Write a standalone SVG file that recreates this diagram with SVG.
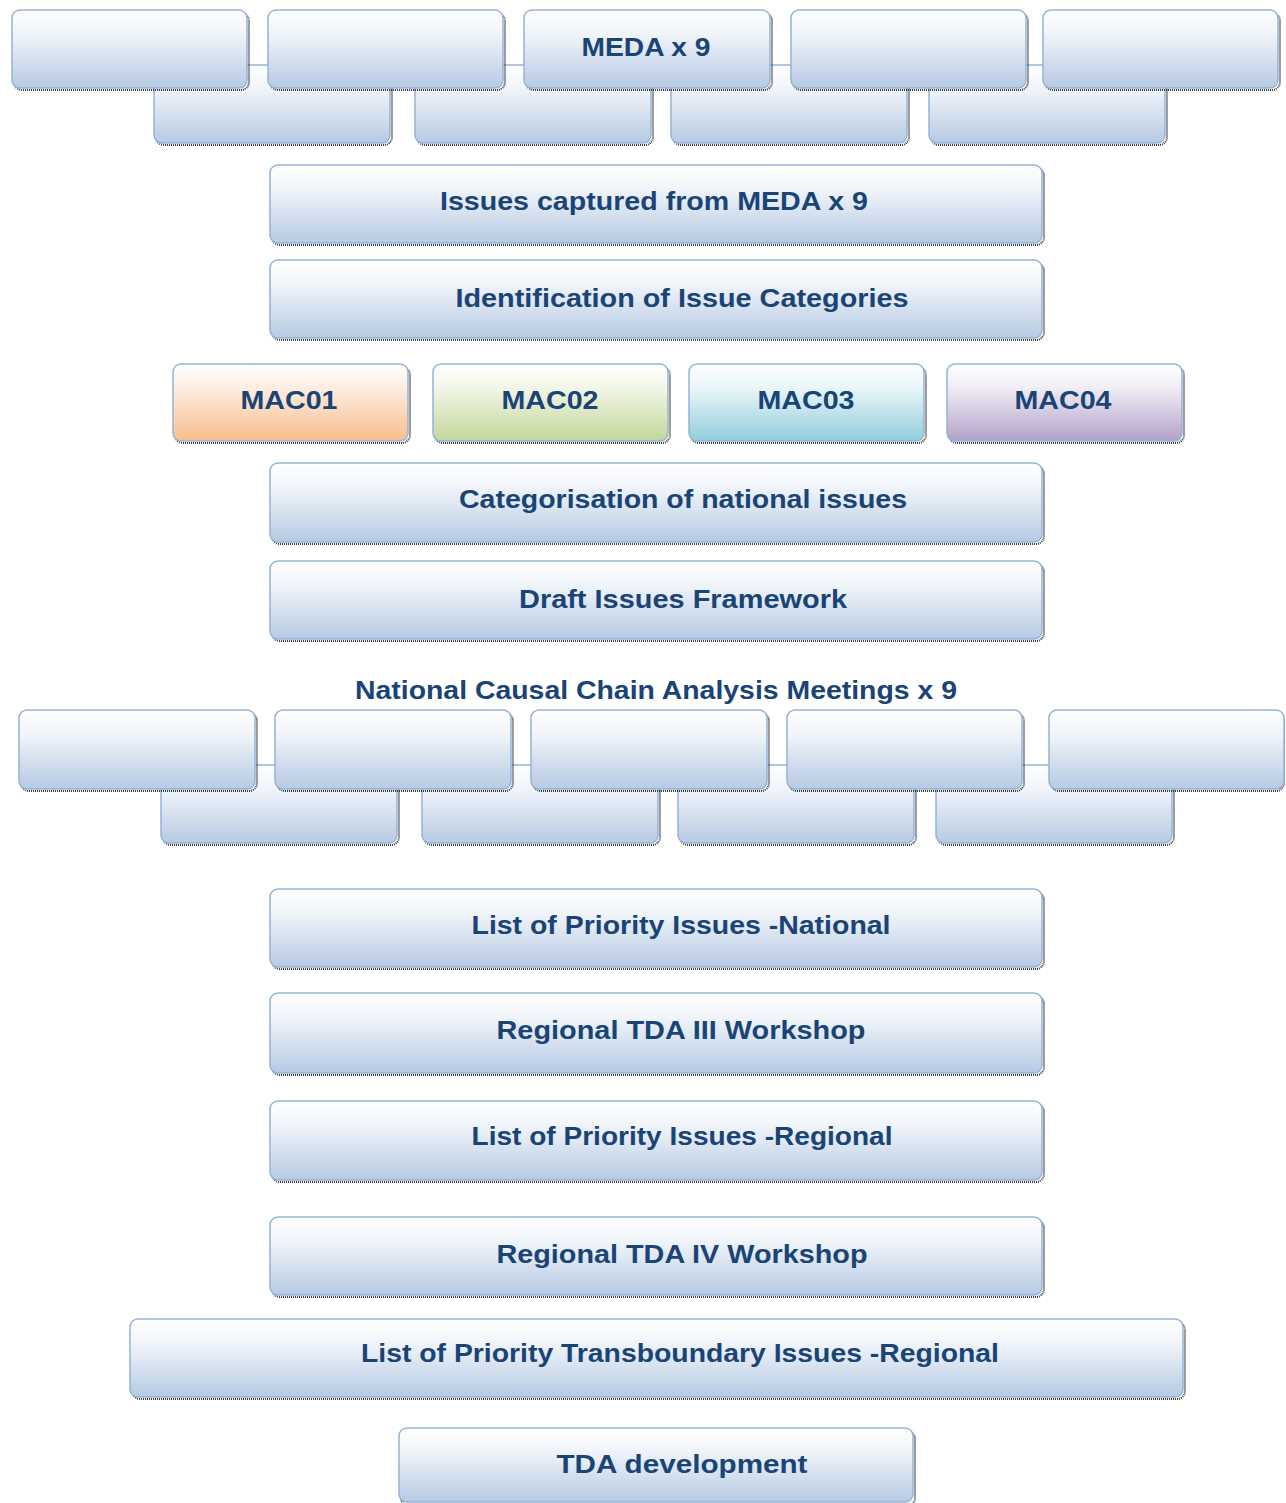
<svg xmlns="http://www.w3.org/2000/svg" width="1286" height="1503" viewBox="0 0 1286 1503">
<style>
.sh{fill:none;stroke:#3c3c3c;stroke-width:2;stroke-dasharray:1 1}
.bx{stroke:#95b3d7;stroke-width:1.5}
.b{fill:url(#gB)}
.o{fill:url(#gO)}
.g{fill:url(#gG)}
.c{fill:url(#gC)}
.p{fill:url(#gP)}
.t{font-family:"Liberation Sans","DejaVu Sans",sans-serif;font-weight:bold;font-size:26px;fill:#1a4475;text-anchor:middle}
</style>
<defs>
<linearGradient id="gB" x1="0" y1="0" x2="0" y2="1"><stop offset="0" stop-color="#ffffff"/><stop offset="0.3" stop-color="#f1f5fa"/><stop offset="1" stop-color="#b6cae3"/></linearGradient>
<linearGradient id="gO" x1="0" y1="0" x2="0" y2="1"><stop offset="0" stop-color="#ffffff"/><stop offset="0.3" stop-color="#fdeee2"/><stop offset="1" stop-color="#f9bd8c"/></linearGradient>
<linearGradient id="gG" x1="0" y1="0" x2="0" y2="1"><stop offset="0" stop-color="#ffffff"/><stop offset="0.3" stop-color="#f2f7e8"/><stop offset="1" stop-color="#c2d69a"/></linearGradient>
<linearGradient id="gC" x1="0" y1="0" x2="0" y2="1"><stop offset="0" stop-color="#ffffff"/><stop offset="0.3" stop-color="#eaf6f9"/><stop offset="1" stop-color="#92cddc"/></linearGradient>
<linearGradient id="gP" x1="0" y1="0" x2="0" y2="1"><stop offset="0" stop-color="#ffffff"/><stop offset="0.3" stop-color="#f1eef6"/><stop offset="1" stop-color="#b2a1c7"/></linearGradient>
</defs>
<rect width="1286" height="1503" fill="#ffffff"/>
<g id="connectors"></g>

<g id="meda-b1"><rect class="sh" x="156" y="68" width="236" height="77" rx="8"/><rect class="bx b" x="154" y="65" width="236" height="78" rx="8"/></g>
<g id="meda-b2"><rect class="sh" x="417" y="68" width="236" height="77" rx="8"/><rect class="bx b" x="415" y="65" width="236" height="78" rx="8"/></g>
<g id="meda-b3"><rect class="sh" x="673" y="68" width="236" height="77" rx="8"/><rect class="bx b" x="671" y="65" width="236" height="78" rx="8"/></g>
<g id="meda-b4"><rect class="sh" x="931" y="68" width="236" height="77" rx="8"/><rect class="bx b" x="929" y="65" width="236" height="78" rx="8"/></g>
<g id="meda-t1"><rect class="sh" x="14" y="13" width="235" height="77" rx="8"/><rect class="bx b" x="12" y="10" width="235" height="78" rx="8"/></g>
<g id="meda-t2"><rect class="sh" x="270" y="13" width="235" height="77" rx="8"/><rect class="bx b" x="268" y="10" width="235" height="78" rx="8"/></g>
<g id="meda-t3"><rect class="sh" x="526" y="13" width="246" height="77" rx="8"/><rect class="bx b" x="524" y="10" width="246" height="78" rx="8"/><text class="t" x="646" y="56" textLength="129" lengthAdjust="spacingAndGlyphs">MEDA x 9</text></g>
<g id="meda-t4"><rect class="sh" x="793" y="13" width="235" height="77" rx="8"/><rect class="bx b" x="791" y="10" width="235" height="78" rx="8"/></g>
<g id="meda-t5"><rect class="sh" x="1045" y="13" width="235" height="77" rx="8"/><rect class="bx b" x="1043" y="10" width="235" height="78" rx="8"/></g>

<g id="issues"><rect class="sh" x="272" y="168" width="772" height="77" rx="8"/><rect class="bx b" x="270" y="165" width="772" height="78" rx="8"/><text class="t" x="654" y="210" textLength="428" lengthAdjust="spacingAndGlyphs">Issues captured from MEDA x 9</text></g>
<g id="identification"><rect class="sh" x="272" y="263" width="772" height="77" rx="8"/><rect class="bx b" x="270" y="260" width="772" height="78" rx="8"/><text class="t" x="682" y="307" textLength="453" lengthAdjust="spacingAndGlyphs">Identification of Issue Categories</text></g>

<g id="mac01"><rect class="sh" x="175" y="367" width="235" height="76" rx="8"/><rect class="bx o" x="173" y="364" width="235" height="77" rx="8"/><text class="t" x="289" y="409" textLength="97" lengthAdjust="spacingAndGlyphs">MAC01</text></g>
<g id="mac02"><rect class="sh" x="435" y="367" width="235" height="76" rx="8"/><rect class="bx g" x="433" y="364" width="235" height="77" rx="8"/><text class="t" x="550" y="409" textLength="97" lengthAdjust="spacingAndGlyphs">MAC02</text></g>
<g id="mac03"><rect class="sh" x="691" y="367" width="235" height="76" rx="8"/><rect class="bx c" x="689" y="364" width="235" height="77" rx="8"/><text class="t" x="806" y="409" textLength="97" lengthAdjust="spacingAndGlyphs">MAC03</text></g>
<g id="mac04"><rect class="sh" x="949" y="367" width="235" height="76" rx="8"/><rect class="bx p" x="947" y="364" width="235" height="77" rx="8"/><text class="t" x="1063" y="409" textLength="97" lengthAdjust="spacingAndGlyphs">MAC04</text></g>

<g id="categorisation"><rect class="sh" x="272" y="466" width="772" height="78" rx="8"/><rect class="bx b" x="270" y="463" width="772" height="79" rx="8"/><text class="t" x="683" y="508" textLength="448" lengthAdjust="spacingAndGlyphs">Categorisation of national issues</text></g>
<g id="draft"><rect class="sh" x="272" y="564" width="772" height="77" rx="8"/><rect class="bx b" x="270" y="561" width="772" height="78" rx="8"/><text class="t" x="683" y="608" textLength="328" lengthAdjust="spacingAndGlyphs">Draft Issues Framework</text></g>

<g id="ncca-label"><text class="t" x="656" y="699" textLength="602" lengthAdjust="spacingAndGlyphs">National Causal Chain Analysis Meetings x 9</text></g>
<g id="ncca-b1"><rect class="sh" x="163" y="768" width="236" height="77" rx="8"/><rect class="bx b" x="161" y="765" width="236" height="78" rx="8"/></g>
<g id="ncca-b2"><rect class="sh" x="424" y="768" width="236" height="77" rx="8"/><rect class="bx b" x="422" y="765" width="236" height="78" rx="8"/></g>
<g id="ncca-b3"><rect class="sh" x="680" y="768" width="236" height="77" rx="8"/><rect class="bx b" x="678" y="765" width="236" height="78" rx="8"/></g>
<g id="ncca-b4"><rect class="sh" x="938" y="768" width="236" height="77" rx="8"/><rect class="bx b" x="936" y="765" width="236" height="78" rx="8"/></g>
<g id="ncca-t1"><rect class="sh" x="21" y="713" width="236" height="78" rx="8"/><rect class="bx b" x="19" y="710" width="236" height="79" rx="8"/></g>
<g id="ncca-t2"><rect class="sh" x="277" y="713" width="236" height="78" rx="8"/><rect class="bx b" x="275" y="710" width="236" height="79" rx="8"/></g>
<g id="ncca-t3"><rect class="sh" x="533" y="713" width="236" height="78" rx="8"/><rect class="bx b" x="531" y="710" width="236" height="79" rx="8"/></g>
<g id="ncca-t4"><rect class="sh" x="789" y="713" width="235" height="78" rx="8"/><rect class="bx b" x="787" y="710" width="235" height="79" rx="8"/></g>
<g id="ncca-t5"><rect class="sh" x="1051" y="713" width="233" height="78" rx="8"/><rect class="bx b" x="1049" y="710" width="235" height="79" rx="8"/></g>

<g id="priority-national"><rect class="sh" x="272" y="892" width="772" height="77" rx="8"/><rect class="bx b" x="270" y="889" width="772" height="78" rx="8"/><text class="t" x="681" y="934" textLength="419" lengthAdjust="spacingAndGlyphs">List of Priority Issues -National</text></g>
<g id="tda3"><rect class="sh" x="272" y="996" width="772" height="79" rx="8"/><rect class="bx b" x="270" y="993" width="772" height="80" rx="8"/><text class="t" x="681" y="1039" textLength="369" lengthAdjust="spacingAndGlyphs">Regional TDA III Workshop</text></g>
<g id="priority-regional"><rect class="sh" x="272" y="1104" width="772" height="78" rx="8"/><rect class="bx b" x="270" y="1101" width="772" height="79" rx="8"/><text class="t" x="682" y="1145" textLength="421" lengthAdjust="spacingAndGlyphs">List of Priority Issues -Regional</text></g>
<g id="tda4"><rect class="sh" x="272" y="1220" width="772" height="77" rx="8"/><rect class="bx b" x="270" y="1217" width="772" height="78" rx="8"/><text class="t" x="682" y="1263" textLength="371" lengthAdjust="spacingAndGlyphs">Regional TDA IV Workshop</text></g>
<g id="transboundary"><rect class="sh" x="132" y="1322" width="1053" height="77" rx="8"/><rect class="bx b" x="130" y="1319" width="1053" height="78" rx="8"/><text class="t" x="680" y="1362" textLength="638" lengthAdjust="spacingAndGlyphs">List of Priority Transboundary Issues -Regional</text></g>
<g id="tda-dev"><rect class="sh" x="401" y="1431" width="514" height="75" rx="8"/><rect class="bx b" x="399" y="1428" width="514" height="74" rx="8"/><text class="t" x="682" y="1473" textLength="251" lengthAdjust="spacingAndGlyphs">TDA development</text></g>
</svg>
